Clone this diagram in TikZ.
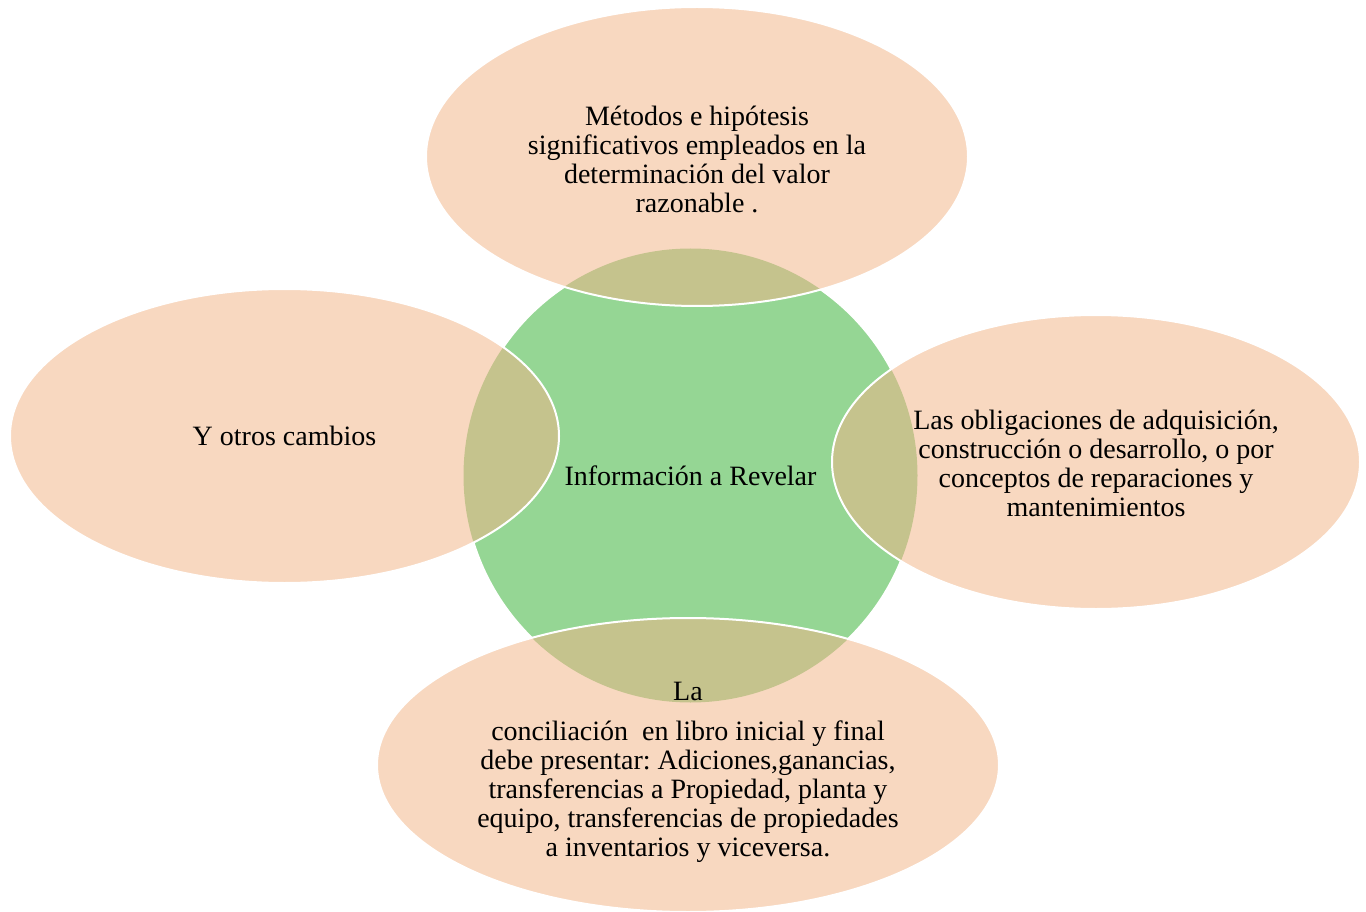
\documentclass[tikz,border=0pt]{standalone}
\usepackage{fontspec}
\setmainfont{Liberation Serif}
\usetikzlibrary{shapes.geometric}
\definecolor{hojaverde}{RGB}{149,214,148}
\definecolor{hojadurazno}{RGB}{248,216,192}
\definecolor{hojaolivo}{RGB}{197,195,141}
\tikzset{
  petalo/.style={ellipse, fill=hojadurazno, draw=white, line width=2pt, inner sep=0pt,
    path picture={\fill[hojaolivo] (nucleo.center) circle [radius=227pt];}},
  centro/.style={circle, fill=hojaverde, draw=white, line width=2pt, inner sep=0pt,
    minimum size=454pt, font=\fontsize{28}{29}\selectfont},
  texto/.style={align=center, inner sep=0pt, font=\fontsize{28}{29}\selectfont\frenchspacing}
}

\begin{document}
\begin{tikzpicture}[x=1pt,y=-1pt]
\useasboundingbox (0,0) rectangle (1366,912);
\node [centro] (nucleo) at (690.5,475.5) {Información a Revelar};
% petalos
\node [petalo, minimum width=542pt, minimum height=299pt] (metodos) at (697,156.5) {};
\node [petalo, minimum width=549pt, minimum height=294pt] (cambios) at (284.5,436) {};
\node [petalo, minimum width=528pt, minimum height=294pt] (obligaciones) at (1096,462) {};
\node [petalo, minimum width=622pt, minimum height=294pt] (conciliacion) at (688,765) {};
% textos
\node [texto] (metodostexto) at ([yshift=-2.5pt]metodos.center)
  {Métodos e hipótesis\\ significativos empleados en la\\ determinación del valor\\ razonable .};
\node [texto] (cambiostexto) at (cambios.center) {Y otros cambios};
\node [texto] (obligacionestexto) at ([yshift=-1pt]obligaciones.center)
  {Las obligaciones de adquisición,\\ construcción o desarrollo, o por\\ conceptos de reparaciones y\\ mantenimientos};
\node [texto] (conciliaciontexto) at ([yshift=-7.5pt]conciliacion.center)
  {La\\[11pt] conciliación\ \ en libro inicial y final\\ debe presentar: Adiciones,ganancias,\\ transferencias a Propiedad, planta y\\ equipo, transferencias de propiedades\\ a inventarios y viceversa.};
\end{tikzpicture}
\end{document}
